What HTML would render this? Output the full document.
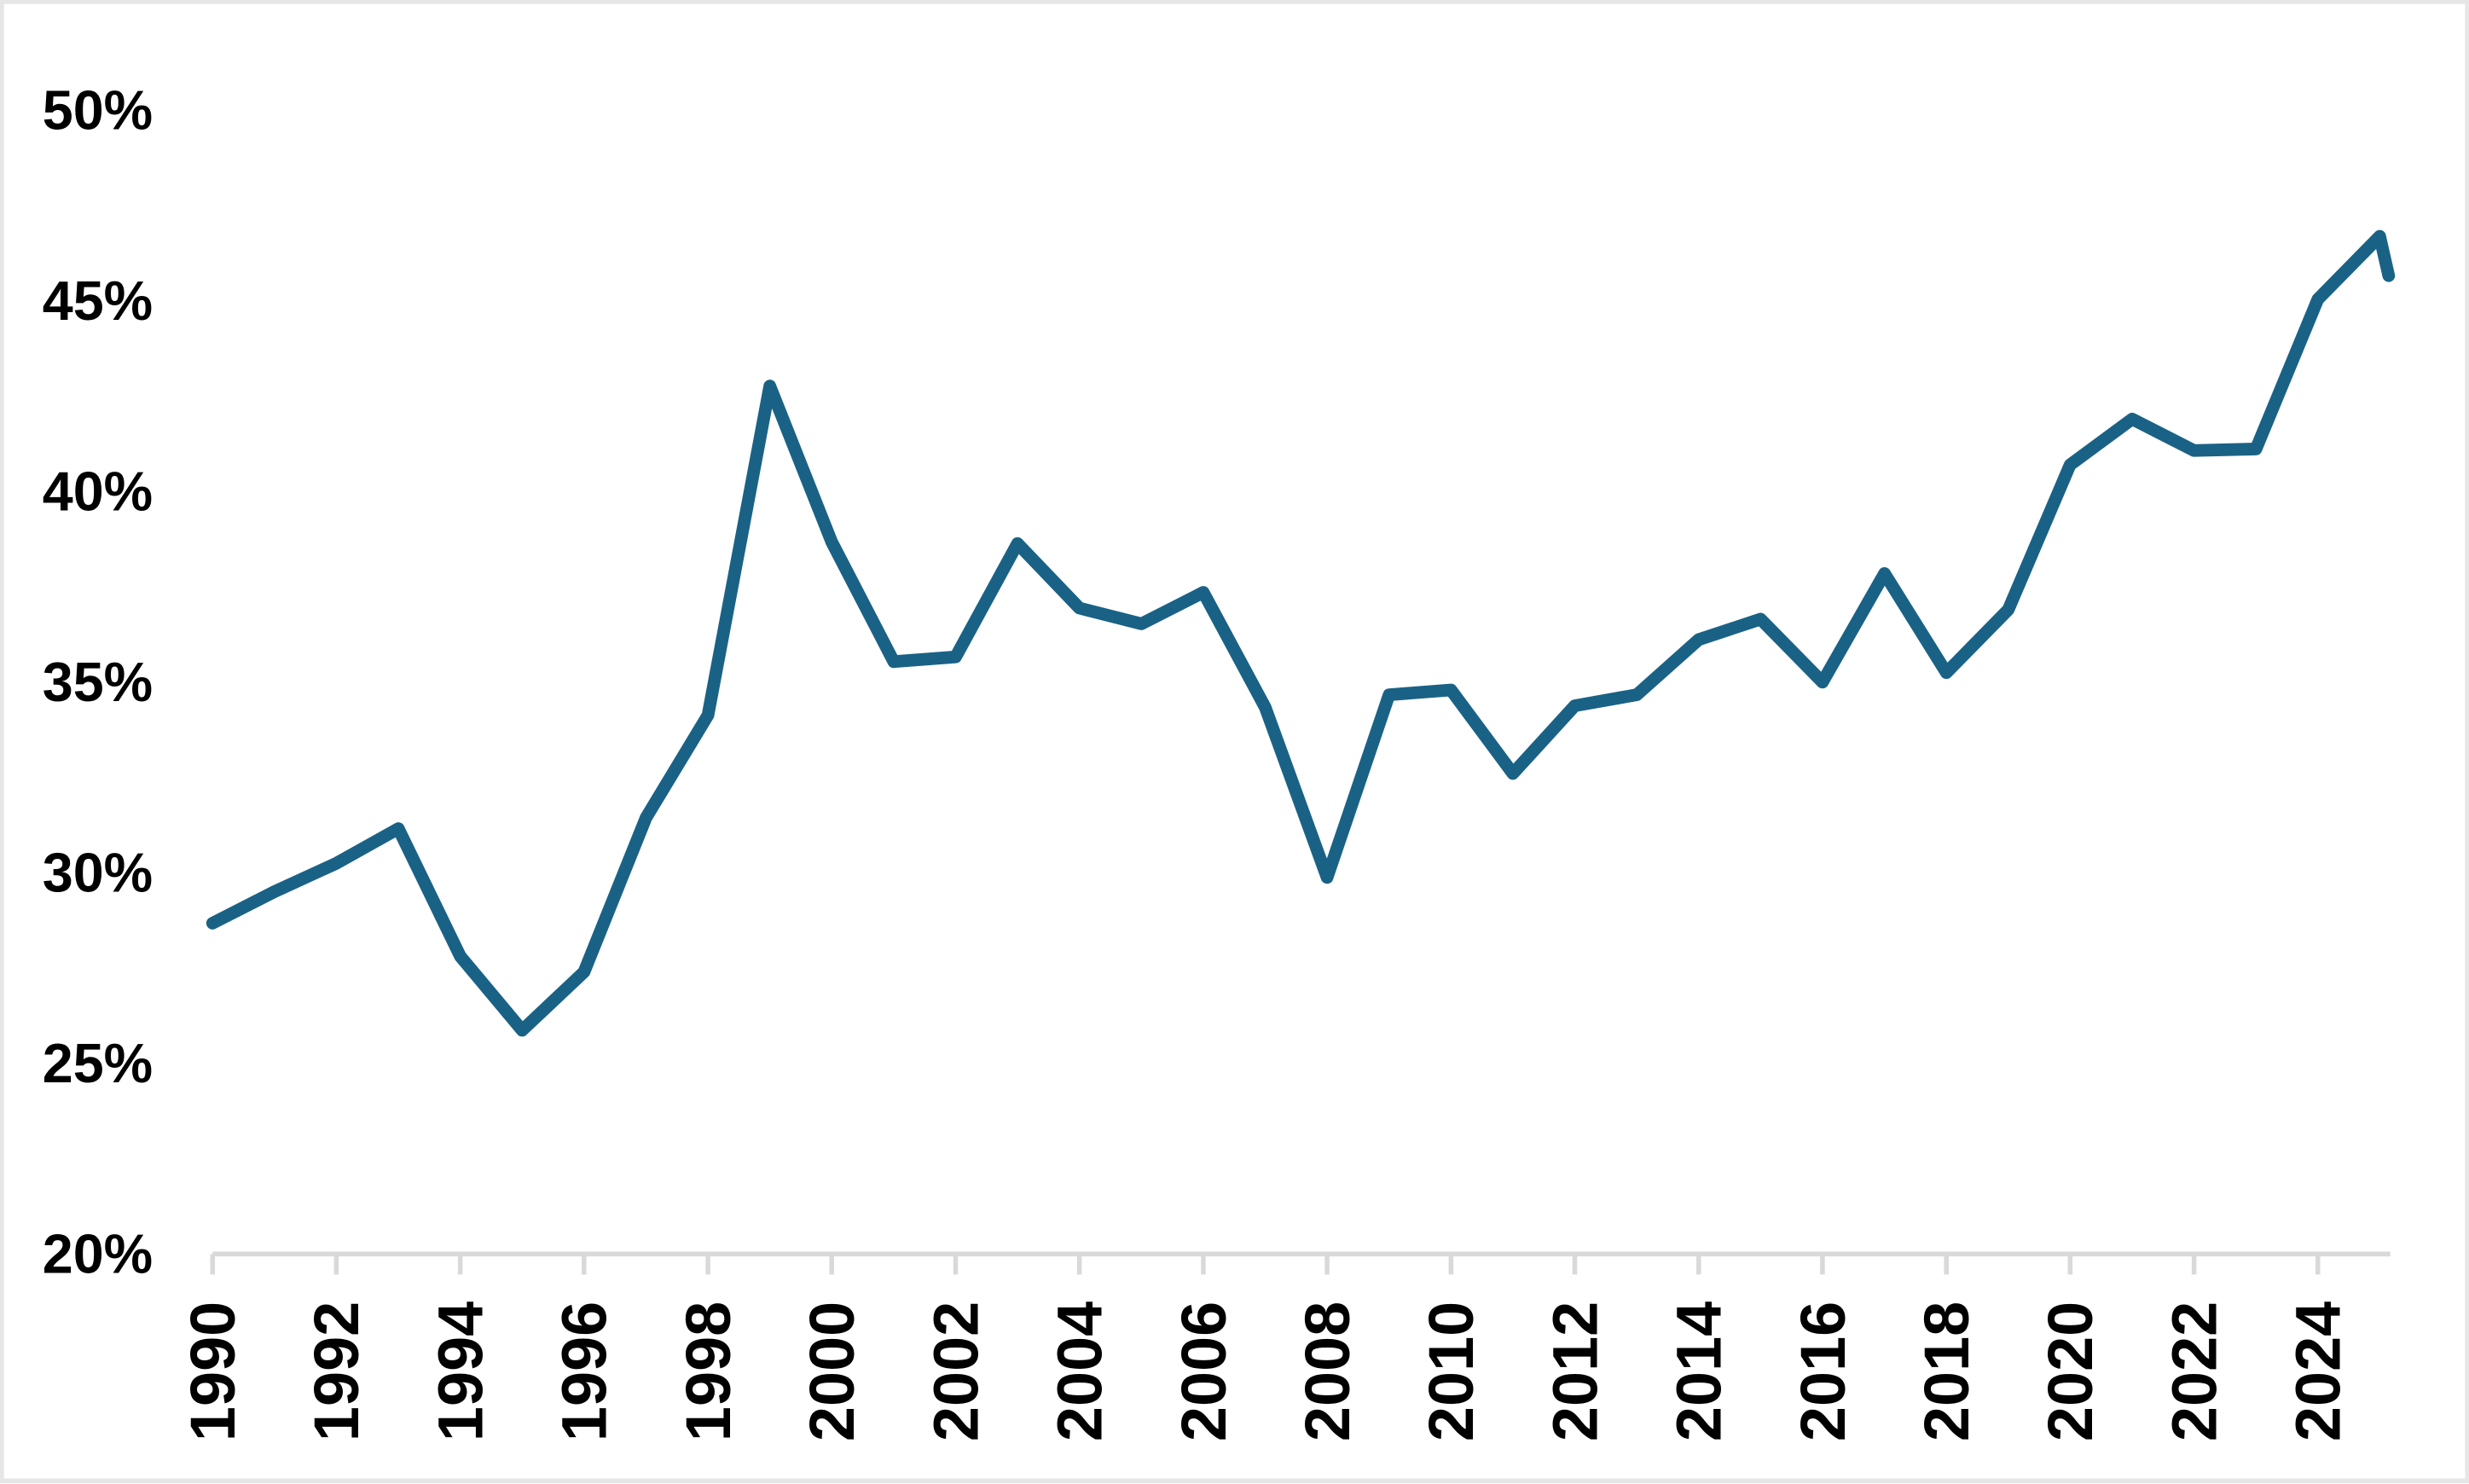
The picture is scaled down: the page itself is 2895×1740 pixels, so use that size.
<!DOCTYPE html>
<html><head><meta charset="utf-8"><style>html,body{margin:0;padding:0;background:#fff}svg{display:block}</style></head>
<body>
<svg width="2895" height="1740" viewBox="0 0 1568 942" preserveAspectRatio="none" xmlns="http://www.w3.org/2000/svg">
<rect x="1" y="1" width="1566" height="939" fill="#fff" stroke="#e6e6e6" stroke-width="3"/>
<g font-family="Liberation Sans, sans-serif" font-weight="bold" font-size="35" fill="#000" text-anchor="end">
<text x="97" y="82">50%</text>
<text x="97" y="203">45%</text>
<text x="97" y="324">40%</text>
<text x="97" y="445">35%</text>
<text x="97" y="566">30%</text>
<text x="97" y="687">25%</text>
<text x="97" y="808">20%</text>
</g>
<g stroke="#d9d9d9" stroke-width="3" fill="none">
<path d="M135 796H1518"/>
<path d="M135 796V809M213.6 796V809M292.3 796V809M370.9 796V809M449.6 796V809M528.2 796V809M606.9 796V809M685.5 796V809M764.2 796V809M842.8 796V809M921.5 796V809M1000.1 796V809M1078.8 796V809M1157.4 796V809M1236.1 796V809M1314.7 796V809M1393.4 796V809M1472 796V809"/>
</g>
<g font-family="Liberation Sans, sans-serif" font-weight="bold" font-size="40" fill="#000" text-anchor="end">
<text transform="translate(149,826) rotate(-90)">1990</text>
<text transform="translate(227.6,826) rotate(-90)">1992</text>
<text transform="translate(306.3,826) rotate(-90)">1994</text>
<text transform="translate(384.9,826) rotate(-90)">1996</text>
<text transform="translate(463.6,826) rotate(-90)">1998</text>
<text transform="translate(542.2,826) rotate(-90)">2000</text>
<text transform="translate(620.9,826) rotate(-90)">2002</text>
<text transform="translate(699.5,826) rotate(-90)">2004</text>
<text transform="translate(778.2,826) rotate(-90)">2006</text>
<text transform="translate(856.8,826) rotate(-90)">2008</text>
<text transform="translate(935.5,826) rotate(-90)">2010</text>
<text transform="translate(1014.1,826) rotate(-90)">2012</text>
<text transform="translate(1092.8,826) rotate(-90)">2014</text>
<text transform="translate(1171.4,826) rotate(-90)">2016</text>
<text transform="translate(1250.1,826) rotate(-90)">2018</text>
<text transform="translate(1328.7,826) rotate(-90)">2020</text>
<text transform="translate(1407.4,826) rotate(-90)">2022</text>
<text transform="translate(1486,826) rotate(-90)">2024</text>
</g>
<polyline fill="none" stroke="#1a6285" stroke-width="8" stroke-linejoin="round" stroke-linecap="round"
points="135,586 174.3,566 213.6,548 253,526 292.3,607 331.6,654 370.9,617 410.3,519 449.6,454 488.9,245 528.2,344 567.6,420 606.9,417 646.2,345 685.5,386 724.9,396 764.2,376 803.5,449 842.8,557 882.2,441 921.5,438 960.8,491 1000.1,448 1039.5,441 1078.8,406 1118.1,393 1157.4,433 1196.8,364 1236.1,427 1275.4,387 1314.7,295 1354.1,266 1393.4,286 1432.7,285 1472,190 1511.3,150 1517,175"/>
</svg>
</body></html>
